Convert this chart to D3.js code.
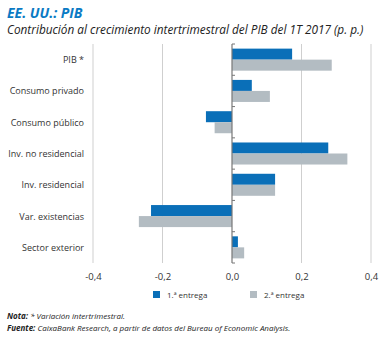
<!DOCTYPE html>
<html>
<head>
<meta charset="utf-8">
<script src="https://cdn.jsdelivr.net/npm/d3@7"></script>
<style>
  body { margin: 0; background: #fff; }
  svg { display: block; font-family: "Open Sans", sans-serif; }
</style>
</head>
<body>
<div id="chart"></div>
<script>
// Data
var categories = ["PIB *", "Consumo privado", "Consumo público", "Inv. no residencial",
                  "Inv. residencial", "Var. existencias", "Sector exterior"];
var series = ["1.ª entrega", "2.ª entrega"];
var entrega1 = [0.173, 0.057, -0.075, 0.277, 0.124, -0.233, 0.017];
var entrega2 = [0.287, 0.109, -0.050, 0.332, 0.124, -0.268, 0.035];
var xTicks = [-0.4, -0.2, 0, 0.2, 0.4];
var colors = ["#0a6fb8", "#b3bcc2"];

var svgWidth = 381;
var svgHeight = 338;

var svg = d3.select("#chart")
  .append("svg")
  .attr("width", svgWidth)
  .attr("height", svgHeight);

// Scales
var x = d3.scaleLinear().domain([-0.4, 0.4]).range([93, 371]);
var y = d3.scaleBand().domain(categories).range([44, 263]);
var ySub = d3.scaleBand().domain(series).range([0, y.bandwidth()])
  .paddingOuter(0.42).paddingInner(0);

var rows = categories.map(function(c, i) {
  return { cat: c, values: [entrega1[i], entrega2[i]] };
});

// Title
svg.append("text")
  .attr("x", 7).attr("y", 18)
  .attr("fill", "#0a7ac4")
  .style("font-size", "14px").style("font-weight", "bold").style("font-style", "italic")
  .text("EE. UU.: PIB");
svg.append("text")
  .attr("x", 7).attr("y", 34)
  .attr("fill", "#222")
  .style("font-size", "11.8px").style("font-style", "italic")
  .text("Contribución al crecimiento intertrimestral del PIB del 1T 2017 (p. p.)");

// Gridlines
svg.append("g")
  .selectAll("line")
  .data(xTicks.filter(function(d) { return d !== 0; }))
  .enter().append("line")
  .attr("x1", function(d) { return x(d); })
  .attr("x2", function(d) { return x(d); })
  .attr("y1", 44).attr("y2", 263)
  .attr("stroke", "#cfcfcf").attr("stroke-width", 1);

// Bars
var groups = svg.append("g")
  .selectAll("g")
  .data(rows)
  .enter().append("g")
  .attr("transform", function(d) { return "translate(0," + y(d.cat) + ")"; });

groups.selectAll("rect")
  .data(function(d) { return d.values.map(function(v, i) { return { s: series[i], v: v, i: i }; }); })
  .enter().append("rect")
  .attr("x", function(d) { return x(Math.min(0, d.v)); })
  .attr("width", function(d) { return Math.abs(x(d.v) - x(0)); })
  .attr("y", function(d) { return ySub(d.s); })
  .attr("height", ySub.bandwidth())
  .attr("fill", function(d) { return colors[d.i]; });

// Zero axis with small ticks between categories
var zeroG = svg.append("g")
  .attr("transform", "translate(" + x(0) + ",0)");
zeroG.selectAll("line.bt")
  .data(d3.range(categories.length + 1))
  .enter().append("line")
  .attr("class", "bt")
  .attr("x1", 0).attr("x2", 3)
  .attr("y1", function(i) { return 44 + i * y.step(); })
  .attr("y2", function(i) { return 44 + i * y.step(); })
  .attr("stroke", "#777");
zeroG.append("line")
  .attr("x1", 0).attr("x2", 0).attr("y1", 44).attr("y2", 263)
  .attr("stroke", "#777").attr("stroke-width", 1.2);

// Category labels
svg.append("g")
  .selectAll("text")
  .data(categories)
  .enter().append("text")
  .attr("x", 84)
  .attr("y", function(d) { return y(d) + y.bandwidth() / 2 + 3.5; })
  .attr("text-anchor", "end")
  .attr("fill", "#333")
  .style("font-size", "9px")
  .text(function(d) { return d; });

// X axis labels
var xAxis = d3.axisBottom(x).tickValues(xTicks).tickSize(0)
  .tickFormat(function(d) { return d3.format(".1f")(d).replace(".", ",").replace("\u2212", "-"); });
var xAxisG = svg.append("g")
  .attr("transform", "translate(0,270)")
  .call(xAxis);
xAxisG.select(".domain").remove();
xAxisG.selectAll("text")
  .attr("fill", "#333")
  .style("font-size", "9.5px")
  .style("font-family", "Open Sans, sans-serif");

// Legend
var legend = svg.append("g")
  .selectAll("g")
  .data(series)
  .enter().append("g")
  .attr("transform", function(d, i) { return "translate(" + (i === 0 ? 153 : 250) + ",291)"; });
legend.append("rect")
  .attr("width", 7).attr("height", 7)
  .attr("fill", function(d, i) { return colors[i]; });
legend.append("text")
  .attr("x", 14).attr("y", 7)
  .attr("fill", "#333")
  .style("font-size", "8px")
  .text(function(d) { return d; });

// Notes
var nota = svg.append("text")
  .attr("x", 7).attr("y", 319)
  .attr("fill", "#222")
  .style("font-size", "8px").style("font-style", "italic");
nota.append("tspan").style("font-weight", "bold").text("Nota: ");
nota.append("tspan").text("* Variación intertrimestral.");

var fuente = svg.append("text")
  .attr("x", 7).attr("y", 331)
  .attr("fill", "#222")
  .style("font-size", "8px").style("font-style", "italic");
fuente.append("tspan").style("font-weight", "bold").text("Fuente: ");
fuente.append("tspan").text("CaixaBank Research, a partir de datos del Bureau of Economic Analysis.");
</script>
</body>
</html>
